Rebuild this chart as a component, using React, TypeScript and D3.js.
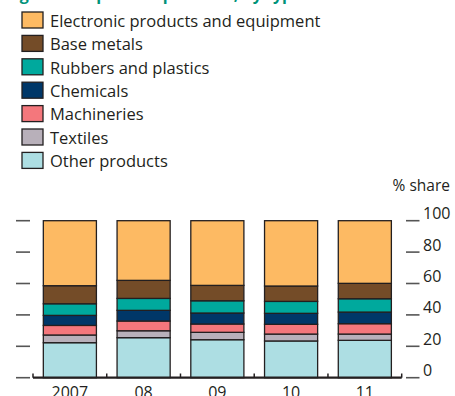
import React from "react";
import * as d3 from "d3";

const years = ["2007", "08", "09", "10", "11"];
const seriesNames = [
  "Other products",
  "Textiles",
  "Machineries",
  "Chemicals",
  "Rubbers and plastics",
  "Base metals",
  "Electronic products and equipment",
];
const otherProducts = [22.3, 25.5, 24.2, 23.4, 23.8];
const textiles = [4.9, 4.4, 4.7, 4.4, 4.0];
const machineries = [6.1, 6.2, 5.3, 6.2, 6.6];
const chemicals = [6.4, 6.8, 7.0, 7.0, 7.4];
const rubbersPlastics = [7.4, 7.6, 7.8, 7.6, 8.5];
const baseMetals = [11.5, 11.5, 9.8, 9.8, 9.8];
const electronics = [41.4, 38.0, 41.2, 41.6, 39.9];
const colors = ["#addee3", "#b8b0ba", "#f4777c", "#003768", "#00a99d", "#744c28", "#fdba63"];
const legendOrder = [6, 5, 4, 3, 2, 1, 0];
const yTicks = [0, 20, 40, 60, 80, 100];

const seriesValues = [otherProducts, textiles, machineries, chemicals, rubbersPlastics, baseMetals, electronics];

export default function App() {
  const W = 455, H = 396;
  const x = d3.scaleBand<string>().domain(years).range([33, 401.7]).paddingInner(0.28).paddingOuter(0.14);
  const y = d3.scaleLinear().domain([0, 100]).range([377.7, 220.7]);
  const rows = years.map((yr, i) => {
    const r: any = { year: yr };
    seriesNames.forEach((n, k) => (r[n] = seriesValues[k][i]));
    return r;
  });
  const stacked = d3.stack<any>().keys(seriesNames)(rows);
  const font = "'Open Sans', 'Liberation Sans', sans-serif";
  const ink = "#231f20";
  const bounds = [...years.map((yr) => (x(yr) as number) - (x.step() - x.bandwidth()) / 2), 401.7];

  return (
    <svg width={W} height={H} style={{ position: "absolute", left: 0, top: 0 }} fontFamily={font}>
      <text x={6} y={-0.5} fontSize={16} fontWeight="bold" fill="#00937a">
        Figure 2: Exports of products, by type
      </text>
      {legendOrder.map((k, i) => (
        <g key={k} transform={`translate(22,${12 + i * 23.4})`}>
          <rect x={0} y={0} width={21} height={16} fill={colors[k]} stroke={ink} strokeWidth={1.3} />
          <text x={28} y={14.7} fontSize={16.5} fill={ink}>
            {seriesNames[k]}
          </text>
        </g>
      ))}
      <text x={450} y={191} fontSize={15.5} textAnchor="end" fill={ink}>
        % share
      </text>
      {yTicks.map((t) => (
        <g key={t}>
          <line x1={16} x2={30} y1={y(t)} y2={y(t)} stroke="#555" strokeWidth={1.6} />
          <line x1={406} x2={419.5} y1={y(t)} y2={y(t)} stroke="#555" strokeWidth={1.6} />
          <text x={423} y={y(t) - 1.5} fontSize={16} fill={ink}>
            {t}
          </text>
        </g>
      ))}
      {stacked.map((s, k) => (
        <g key={s.key}>
          {s.map((d, i) => (
            <rect
              key={i}
              x={x(years[i])}
              width={x.bandwidth()}
              y={y(d[1])}
              height={y(d[0]) - y(d[1])}
              fill={colors[k]}
              stroke={ink}
              strokeWidth={1.3}
            />
          ))}
        </g>
      ))}
      <line x1={33} x2={401.7} y1={377.7} y2={377.7} stroke={ink} strokeWidth={2.2} />
      {bounds.map((b, i) => (
        <line key={i} x1={b} x2={b} y1={377.7} y2={373.5} stroke={ink} strokeWidth={1.5} />
      ))}
      {years.map((yr) => (
        <text key={yr} x={(x(yr) as number) + x.bandwidth() / 2} y={398} fontSize={16} textAnchor="middle" fill={ink}>
          {yr}
        </text>
      ))}
    </svg>
  );
}
